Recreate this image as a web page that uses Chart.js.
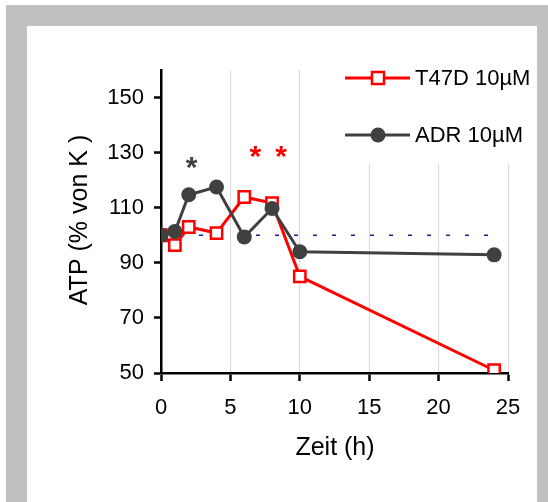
<!DOCTYPE html>
<html>
<head>
<meta charset="utf-8">
<script src="https://cdn.jsdelivr.net/npm/chart.js@4/dist/chart.umd.min.js"></script>
<style>
  html, body { margin: 0; padding: 0; background: #fff; }
  #frame { position: absolute; left: 6px; top: 5px; width: 542px; height: 497px; background: #c0c0c0; }
  #inner { position: absolute; left: 27px; top: 26px; width: 510px; height: 476px; background: #fff; }
  #wrap { position: absolute; left: 0; top: 0; width: 548px; height: 502px; }
</style>
</head>
<body>
<div id="frame"></div>
<div id="inner"></div>
<div id="wrap"><canvas id="c" width="548" height="502"></canvas></div>
<script>
// Time points (h) and ATP level in % of control
const hours = [0, 1, 2, 4, 6, 8, 10, 24];
const t47d = [100, 96.4, 103, 100.8, 113.9, 111.7, 85.1, 51];
const adr = [100, 101.4, 114.7, 117.5, 99.4, 109.7, 94, 92.9];
const baselineX = [0, 24];
const baselineY = [100, 100];
const yTicks = [50, 70, 90, 110, 130, 150];
const xTicks = [0, 5, 10, 15, 20, 25];
const seriesNames = ['T47D 10µM', 'ADR 10µM'];
// significance marks: [x, y, colour]
const starMarks = [[2.2, 127.5, '#404040'], [6.8, 131.2, '#ff0000'], [8.65, 131.2, '#ff0000']];

const FONT = '"Liberation Sans", Arial, sans-serif';
const RED = '#ff0000';
const GREY = '#404040';

const toXY = (xs, ys) => xs.map((x, i) => ({ x: x, y: ys[i] }));

const decor = {
  id: 'decor',
  afterDraw(chart) {
    const ctx = chart.ctx;
    const xs = chart.scales.x, ys = chart.scales.y;
    ctx.save();
    // significance asterisks
    const starSize = 30;
    ctx.font = 'bold ' + starSize + 'px ' + FONT;
    ctx.textAlign = 'center';
    ctx.textBaseline = 'alphabetic';
    starMarks.forEach(([x, y, col]) => {
      ctx.fillStyle = col;
      ctx.fillText('*', xs.getPixelForValue(x), ys.getPixelForValue(y) + 0.57 * starSize);
    });
    // legend panel
    ctx.fillStyle = '#fff';
    ctx.fillRect(318, 58, 212, 106);
    const entries = [
      { name: seriesNames[0], color: RED, y: 78, marker: 'rect' },
      { name: seriesNames[1], color: GREY, y: 135, marker: 'circle' }
    ];
    entries.forEach(e => {
      ctx.strokeStyle = e.color;
      ctx.lineWidth = 3;
      ctx.beginPath();
      ctx.moveTo(345, e.y);
      ctx.lineTo(410, e.y);
      ctx.stroke();
      if (e.marker === 'rect') {
        ctx.fillStyle = '#fff';
        ctx.lineWidth = 2.5;
        ctx.fillRect(372, e.y - 6, 12, 12);
        ctx.strokeRect(372, e.y - 6, 12, 12);
      } else {
        ctx.fillStyle = e.color;
        ctx.beginPath();
        ctx.arc(378, e.y, 7.5, 0, Math.PI * 2);
        ctx.fill();
      }
      ctx.fillStyle = '#000';
      ctx.font = '22px ' + FONT;
      ctx.textAlign = 'left';
      ctx.textBaseline = 'middle';
      ctx.fillText(e.name, 415, e.y + 1);
    });
    // axis titles
    ctx.fillStyle = '#000';
    ctx.font = '25px ' + FONT;
    ctx.textAlign = 'center';
    ctx.textBaseline = 'middle';
    ctx.fillText('Zeit (h)', 335, 448);
    ctx.translate(80, 220);
    ctx.rotate(-Math.PI / 2);
    ctx.fillText('ATP (% von K )', 0, 0);
    ctx.restore();
  }
};

new Chart(document.getElementById('c'), {
  type: 'line',
  data: {
    datasets: [
      {
        label: seriesNames[0],
        data: toXY(hours, t47d),
        borderColor: RED,
        borderWidth: 3,
        pointStyle: 'rect',
        pointRadius: 8,
        pointBorderWidth: 2.5,
        pointBorderColor: RED,
        pointBackgroundColor: '#fff',
        order: 1
      },
      {
        label: seriesNames[1],
        data: toXY(hours, adr),
        borderColor: GREY,
        borderWidth: 3,
        pointStyle: 'circle',
        pointRadius: 7.5,
        pointBorderWidth: 0,
        pointBackgroundColor: GREY,
        order: 0
      },
      {
        label: 'K',
        data: toXY(baselineX, baselineY),
        borderColor: '#1f1f99',
        borderWidth: 1.5,
        borderDash: [4, 15],
        pointRadius: 0,
        order: 2
      }
    ]
  },
  options: {
    responsive: false,
    animation: false,
    events: [],
    layout: { padding: { left: 0, top: 70, right: 40, bottom: 0 } },
    plugins: { legend: { display: false }, tooltip: { enabled: false } },
    scales: {
      x: {
        type: 'linear',
        min: 0,
        max: 25,
        afterFit(s) { s.height = 129; },
        afterBuildTicks(s) { s.ticks = xTicks.map(v => ({ value: v })); },
        border: { color: '#000', width: 2.5 },
        grid: { color: '#d9d9d9', lineWidth: 1, tickColor: '#000', tickWidth: 2.5, tickLength: 8 },
        ticks: { color: '#000', font: { family: FONT, size: 22 }, padding: 14, maxRotation: 0 }
      },
      y: {
        type: 'linear',
        min: 50,
        max: 160,
        afterFit(s) { s.width = 161; },
        afterBuildTicks(s) { s.ticks = yTicks.map(v => ({ value: v })); },
        border: { color: '#000', width: 2.5 },
        grid: { drawOnChartArea: false, tickColor: '#000', tickWidth: 2.5, tickLength: 7 },
        ticks: { color: '#000', font: { family: FONT, size: 22 }, padding: 10 }
      }
    }
  },
  plugins: [decor]
});
</script>
</body>
</html>
